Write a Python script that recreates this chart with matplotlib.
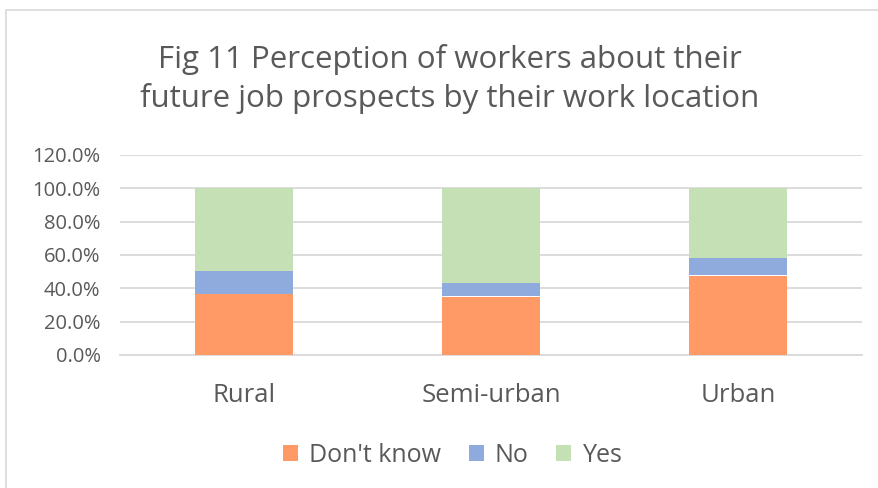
import numpy as np
import matplotlib.pyplot as plt
from matplotlib.patches import Rectangle
from matplotlib.ticker import FuncFormatter

categories = ['Rural', 'Semi-urban', 'Urban']
dont_know = [36.7, 35.1, 47.7]
no = [13.8, 7.8, 10.6]
yes = [49.5, 57.1, 41.7]

plt.rcParams['font.family'] = ['Open Sans', 'DejaVu Sans']
text_col = '#595959'

fig = plt.figure(figsize=(8.79, 4.88), dpi=100)
ax = fig.add_axes([120 / 879, 1 - 355 / 488, 742 / 879, 200 / 488])

x = np.arange(len(categories))
w = 0.395
b1 = np.array(dont_know)
b2 = b1 + np.array(no)
ax.bar(x, dont_know, w, color='#ff9966', label="Don't know", zorder=3)
ax.bar(x, no, w, bottom=b1, color='#8faadc', label='No', zorder=3)
ax.bar(x, yes, w, bottom=b2, color='#c5e0b4', label='Yes', zorder=3)

ax.set_xlim(-0.5, 2.5)
ax.set_ylim(0, 120)
ax.set_yticks(np.arange(0, 121, 20))
ax.yaxis.set_major_formatter(FuncFormatter(lambda v, p: f'{v:.1f}%'))
ax.grid(axis='y', color='#d9d9d9', linewidth=1.3, zorder=0)
for s in ['top', 'right', 'left']:
    ax.spines[s].set_visible(False)
ax.spines['bottom'].set_color('#d9d9d9')
ax.spines['bottom'].set_linewidth(1.3)
ax.tick_params(length=0)
ax.tick_params(axis='y', labelsize=14.5, labelcolor=text_col, pad=14)
ax.tick_params(axis='x', labelsize=18.5, labelcolor=text_col, pad=20)
ax.set_xticks(x)
ax.set_xticklabels(categories)

fig.text(0.512, 0.838, 'Fig 11 Perception of workers about their\nfuture job prospects by their work location',
         ha='center', va='center', fontsize=22.5, color=text_col, linespacing=1.3)

fig.legend(loc='center', bbox_to_anchor=(0.515, 1 - 455 / 488), ncol=3, frameon=False,
           fontsize=18, labelcolor=text_col, handlelength=0.6, handleheight=0.6,
           handletextpad=0.45, columnspacing=1.1)

fig.patches.append(Rectangle((6 / 879, -0.05), 1.1, 1 - 10 / 488 + 0.05,
                             transform=fig.transFigure, fill=False,
                             edgecolor='#d9d9d9', linewidth=1.2))

fig.savefig('out.png', dpi=100)
